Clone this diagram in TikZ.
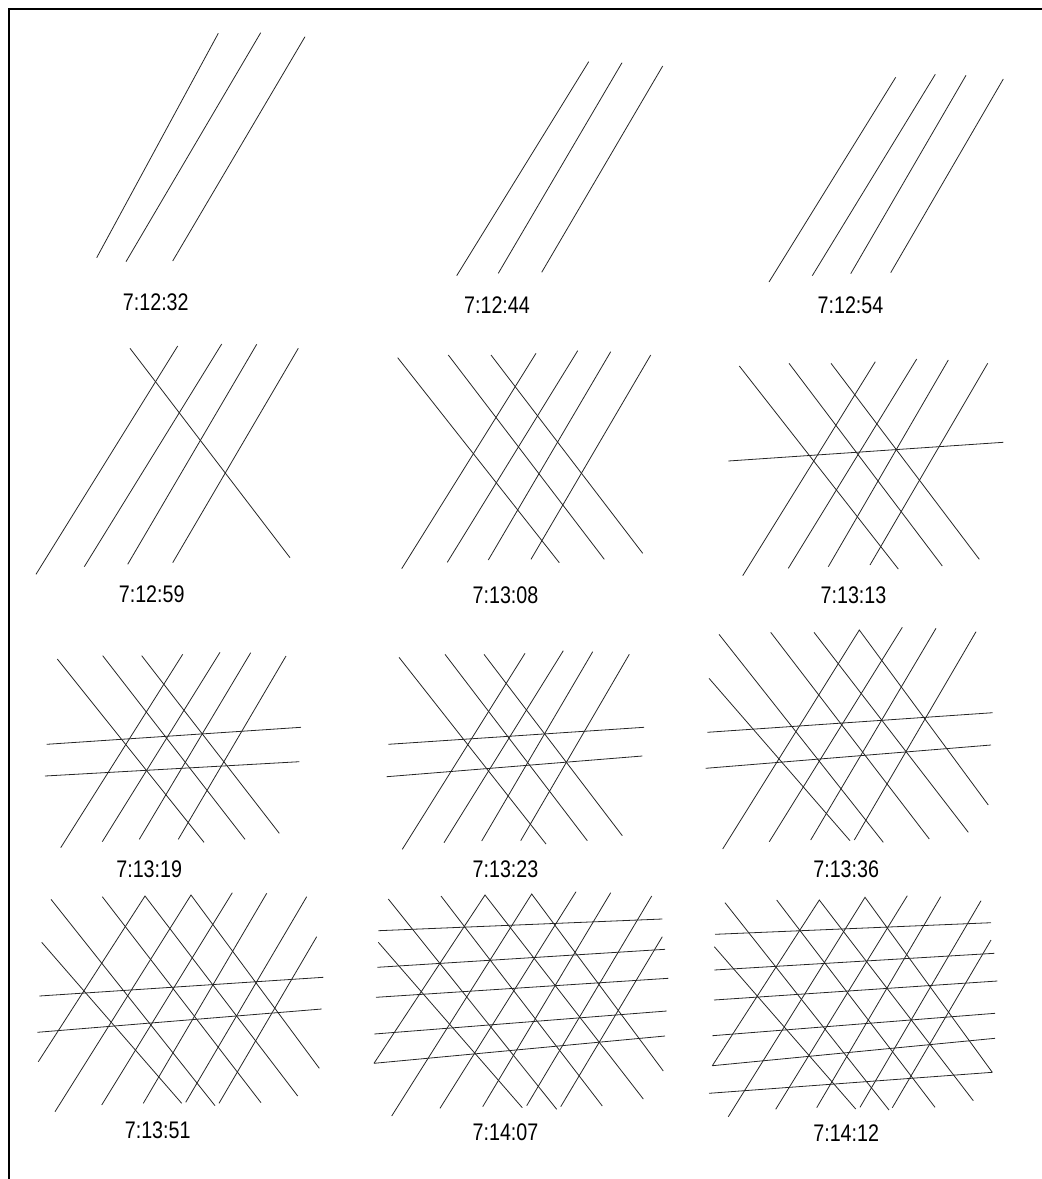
\documentclass[tikz,border=0pt]{standalone}
\usepackage{fontspec}
\newfontfamily\lblfont[FakeStretch=0.82]{Liberation Sans}
\begin{document}
\begin{tikzpicture}[x=1pt,y=-1pt,
  ln/.style={line width=0.8pt,black!85},
  frm/.style={line width=2pt,black},
  lbl/.style={font=\lblfont\fontsize{24}{28}\selectfont,inner sep=0pt}]
\useasboundingbox (0,0) rectangle (1042,1179);
% frame
\draw[frm] (9,1179) -- (9,9) -- (1042,9);
% ---------- panel 1
\draw[ln] (96.7,257.7) -- (218.3,33.3);
\draw[ln] (126,261.7) -- (260.7,32.7);
\draw[ln] (172.7,261) -- (305,36.7);
\node[lbl] (l1) at (155.8,302) {7:12:32};
% ---------- panel 2
\draw[ln] (456.7,275.7) -- (588.7,61.7);
\draw[ln] (498.3,273.3) -- (622,62.7);
\draw[ln] (541.7,272.3) -- (662.7,66);
\node[lbl] (l2) at (497,305) {7:12:44};
% ---------- panel 3
\draw[ln] (769,282) -- (895.7,77.3);
\draw[ln] (812.3,275.7) -- (935.3,74.3);
\draw[ln] (850.7,273.7) -- (966,75.3);
\draw[ln] (890.7,272.7) -- (1003.3,79);
\node[lbl] (l3) at (850.5,305) {7:12:54};
% ---------- panel 4
\draw[ln] (36,574.3) -- (177.7,346);
\draw[ln] (84.3,566.7) -- (221.7,344);
\draw[ln] (127.7,564.3) -- (256.7,344.3);
\draw[ln] (172.7,562.7) -- (298.3,348.3);
\draw[ln] (130,348.3) -- (290,557.7);
\node[lbl] (l4) at (151.7,594) {7:12:59};
% ---------- panel 5
\draw[ln] (397.7,357.7) -- (559.3,562.7);
\draw[ln] (448.3,355) -- (604.3,559.3);
\draw[ln] (491,355) -- (642.7,553.3);
\draw[ln] (401.7,568.7) -- (536,353.3);
\draw[ln] (447.3,562.3) -- (577.7,350.7);
\draw[ln] (488.3,560) -- (610.7,351.7);
\draw[ln] (531,559.3) -- (650.7,355);
\node[lbl] (l5) at (505.5,595) {7:13:08};
% ---------- panel 6
\draw[ln] (739.3,366) -- (898.3,569);
\draw[ln] (789,363.3) -- (942.3,566);
\draw[ln] (831,363.3) -- (979.3,559.3);
\draw[ln] (742.7,575.7) -- (875.3,361.7);
\draw[ln] (788.3,568.3) -- (916.7,359);
\draw[ln] (828.3,566.7) -- (948.3,360);
\draw[ln] (870,565) -- (987.7,363.3);
\draw[ln] (728.3,461) -- (1003.3,442.3);
\node[lbl] (l6) at (853.5,595) {7:13:13};
% ---------- panel 7
\draw[ln] (57.3,659) -- (204,842.3);
\draw[ln] (102.7,655.7) -- (245,839.3);
\draw[ln] (141.7,655.7) -- (279.3,833.3);
\draw[ln] (60.7,847.7) -- (182.7,654.3);
\draw[ln] (102.3,841.7) -- (220,652.3);
\draw[ln] (139.3,839.3) -- (250.7,652.7);
\draw[ln] (178.3,839.3) -- (286,656);
\draw[ln] (46.7,744.3) -- (301,727.3);
\draw[ln] (45,776) -- (299.3,761.7);
\node[lbl] (l7) at (149.2,869) {7:13:19};
% ---------- panel 8
\draw[ln] (399,657.3) -- (546,844);
\draw[ln] (445,654.3) -- (587.3,840.7);
\draw[ln] (484,654.3) -- (622.3,835.7);
\draw[ln] (402.3,849.3) -- (525,653.3);
\draw[ln] (444,842.7) -- (563.3,650.7);
\draw[ln] (481.7,841) -- (592.7,651.7);
\draw[ln] (520.7,840.7) -- (629.3,654.3);
\draw[ln] (388.3,744.3) -- (644,727.3);
\draw[ln] (386.7,776.7) -- (642.3,756);
\node[lbl] (l8) at (505.5,869) {7:13:23};
% ---------- panel 9
\draw[ln] (709,678.3) -- (850,840.7);
\draw[ln] (719,634.3) -- (883.3,842.3);
\draw[ln] (770.7,632.3) -- (929.3,839);
\draw[ln] (814,632.3) -- (968.3,832.3);
\draw[ln] (722.7,849) -- (859.3,630) -- (988.3,805);
\draw[ln] (769.3,841.7) -- (902.3,627.3);
\draw[ln] (810.7,840) -- (936,628.3);
\draw[ln] (854.3,840) -- (976,631.7);
\draw[ln] (707.3,732.3) -- (992.7,712.7);
\draw[ln] (705.7,768.3) -- (991,745);
\node[lbl] (l9) at (846.2,869) {7:13:36};
% ---------- panel 10
\draw[ln] (41.7,942.3) -- (181.7,1103.3);
\draw[ln] (51,899.3) -- (215,1105.7);
\draw[ln] (102.3,896.7) -- (261,1102.7);
\draw[ln] (38.3,1061.7) -- (145,896) -- (297.7,1096);
\draw[ln] (55,1111.7) -- (191,895) -- (319.3,1068.3);
\draw[ln] (101.7,1105) -- (232.3,892.7);
\draw[ln] (143.3,1103.3) -- (266.7,893.3);
\draw[ln] (185.7,1102.3) -- (306.7,896.7);
\draw[ln] (219,1103.3) -- (316.7,936.7);
\draw[ln] (39.3,996) -- (323.3,977.3);
\draw[ln] (37.3,1032.3) -- (321.7,1009);
\node[lbl] (l10) at (157.7,1130) {7:13:51};
% ---------- panel 11
\draw[ln] (378.3,942.3) -- (522.3,1107.7);
\draw[ln] (388.3,899) -- (556.7,1109.3);
\draw[ln] (441,896) -- (602.3,1106);
\draw[ln] (374,1063.3) -- (485,895) -- (643.3,1099);
\draw[ln] (391.7,1116) -- (531.7,894) -- (663.3,1071);
\draw[ln] (440,1108.3) -- (576,891.7);
\draw[ln] (482.7,1106.7) -- (610.7,892.7);
\draw[ln] (526.7,1105.7) -- (651.7,896);
\draw[ln] (560.7,1106.7) -- (662.3,936.7);
\draw[ln] (378.3,930.7) -- (662.3,919);
\draw[ln] (377.3,967.3) -- (665,949.3);
\draw[ln] (376,997.3) -- (668.3,978.3);
\draw[ln] (374.3,1034) -- (666.7,1011);
\draw[ln] (374,1063.3) -- (665,1036);
\node[lbl] (l11) at (505.5,1132) {7:14:07};
% ---------- panel 12
\draw[ln] (714.3,946.7) -- (855.7,1109);
\draw[ln] (725,902.7) -- (889,1110);
\draw[ln] (776.7,900) -- (935,1107.3);
\draw[ln] (712.3,1065.7) -- (819.3,900) -- (973.3,1100.7);
\draw[ln] (728.3,1116.7) -- (865,897.3) -- (992.3,1072.3);
\draw[ln] (775.7,1109.3) -- (907.3,895.7);
\draw[ln] (816.7,1107.7) -- (940.7,896.7);
\draw[ln] (860,1107.3) -- (981,900.7);
\draw[ln] (892.3,1107.7) -- (991,940);
\draw[ln] (715,934.3) -- (991,922.7);
\draw[ln] (714.3,970) -- (994.3,953.3);
\draw[ln] (714,1000) -- (997.3,981);
\draw[ln] (712.3,1035.7) -- (995,1013.3);
\draw[ln] (712.3,1065.7) -- (995,1038.3);
\draw[ln] (709,1093.3) -- (992.3,1072.3);
\node[lbl] (l12) at (846.2,1133) {7:14:12};
\end{tikzpicture}
\end{document}
